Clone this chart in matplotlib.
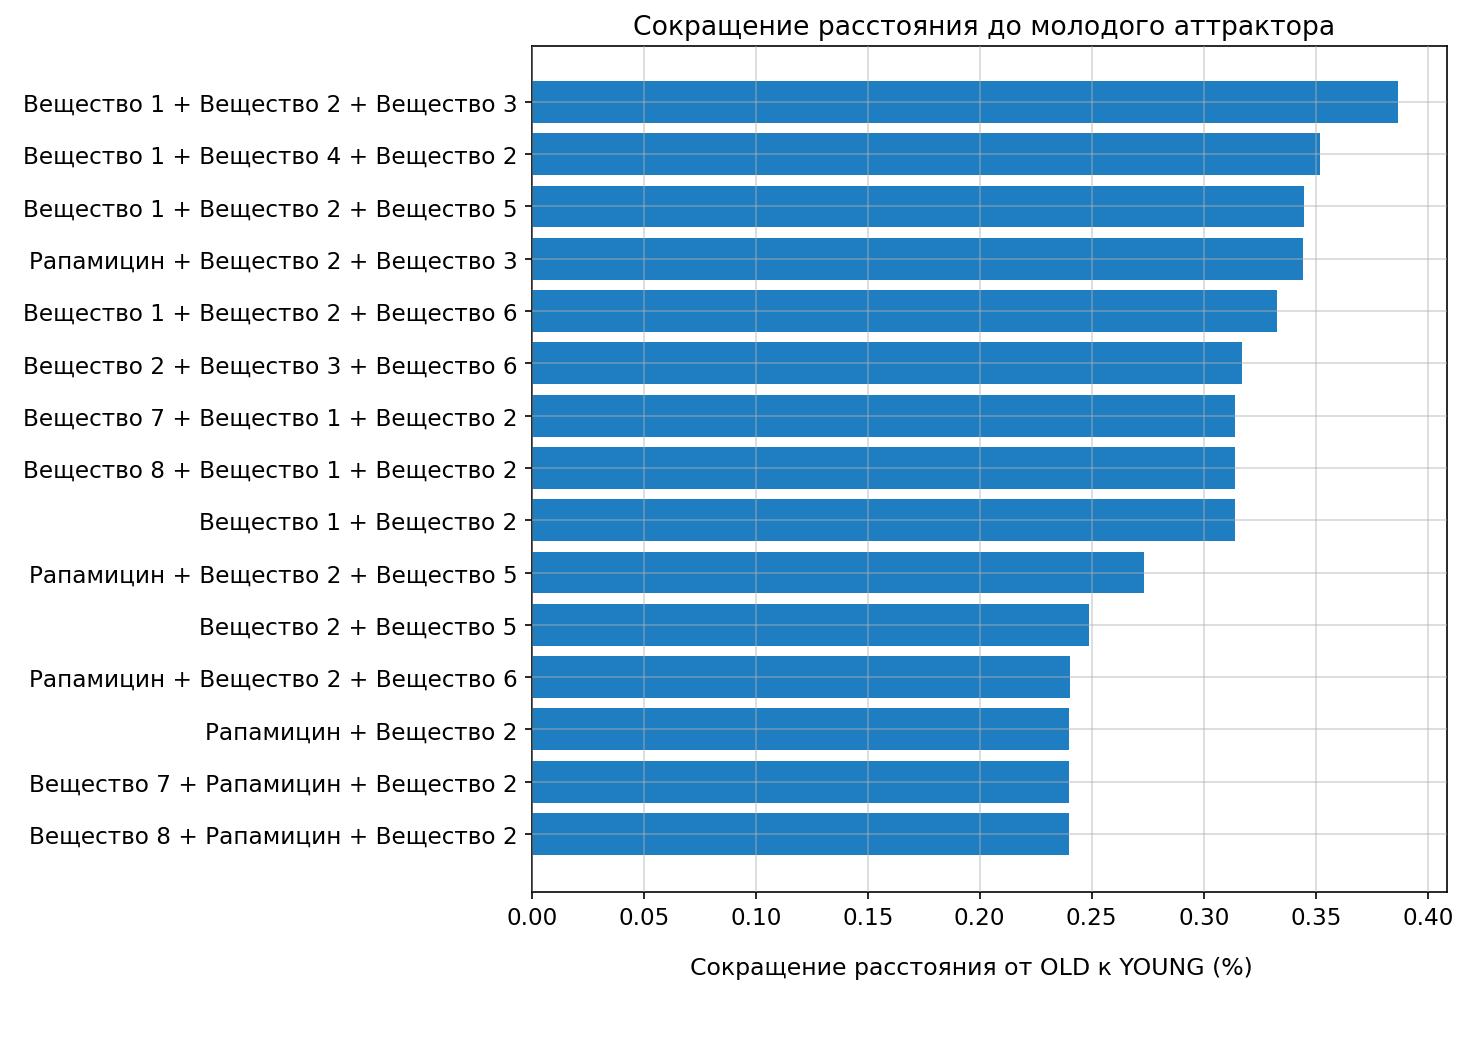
import matplotlib
matplotlib.use("Agg")
import matplotlib.pyplot as plt

# combinations, top to bottom as shown
combos = [
    "Вещество 1 + Вещество 2 + Вещество 3",
    "Вещество 1 + Вещество 4 + Вещество 2",
    "Вещество 1 + Вещество 2 + Вещество 5",
    "Рапамицин + Вещество 2 + Вещество 3",
    "Вещество 1 + Вещество 2 + Вещество 6",
    "Вещество 2 + Вещество 3 + Вещество 6",
    "Вещество 7 + Вещество 1 + Вещество 2",
    "Вещество 8 + Вещество 1 + Вещество 2",
    "Вещество 1 + Вещество 2",
    "Рапамицин + Вещество 2 + Вещество 5",
    "Вещество 2 + Вещество 5",
    "Рапамицин + Вещество 2 + Вещество 6",
    "Рапамицин + Вещество 2",
    "Вещество 7 + Рапамицин + Вещество 2",
    "Вещество 8 + Рапамицин + Вещество 2",
]
reduction = [0.3866, 0.3521, 0.3447, 0.3445, 0.3328, 0.3170, 0.3139, 0.3139,
             0.3139, 0.2732, 0.2489, 0.2402, 0.2397, 0.2397, 0.2397]

fig = plt.figure(figsize=(10, 7.21), dpi=147.7)
ax = fig.add_axes([0.360, 0.1615, 0.620, 0.7945])

ypos = list(range(len(combos)))
ax.barh(ypos, reduction, height=0.8, color="#1f7ec1")
ax.set_yticks(ypos)
ax.set_yticklabels(combos, fontsize=11.3)
ax.set_ylim(len(combos) - 1 + 1.11, -1.07)
ax.set_xlim(0, 0.4088)
ax.set_xticks([0.0, 0.05, 0.10, 0.15, 0.20, 0.25, 0.30, 0.35, 0.40])
ax.set_xticklabels([f"{t:.2f}" for t in ax.get_xticks()], fontsize=11.3)

ax.set_axisbelow(False)
ax.grid(True, color="#b0b0b0", alpha=0.5, linewidth=0.8)

ax.set_title("Сокращение расстояния до молодого аттрактора", fontsize=13)
ax.title.set_x(0.494)
ax.set_xlabel("Сокращение расстояния от OLD к YOUNG (%)", fontsize=11.5, labelpad=13)
ax.xaxis.label.set_x(0.48)

fig.savefig("out.png", dpi=147.7)
